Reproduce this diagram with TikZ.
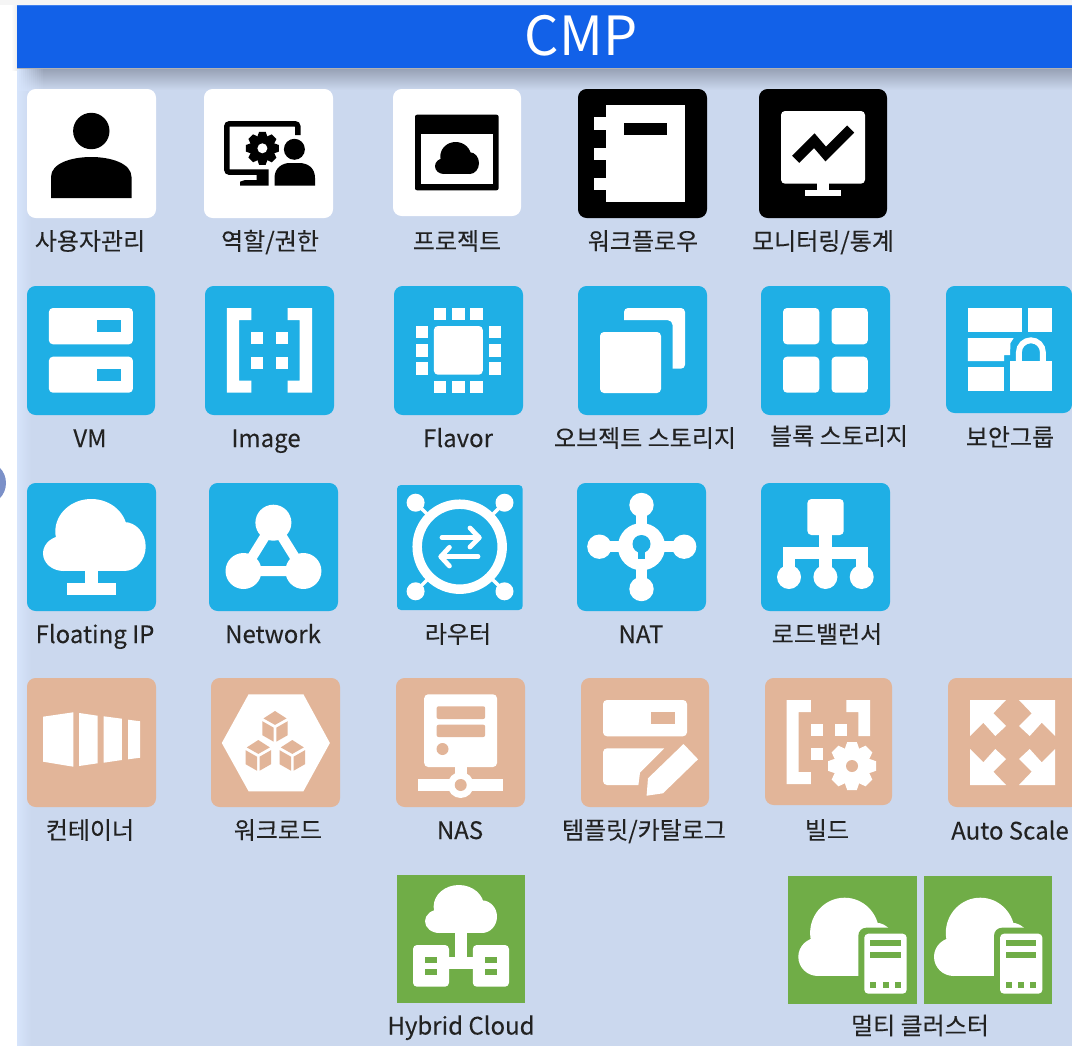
\documentclass[tikz,border=0pt]{standalone}
\usepackage{fontspec}
\setmainfont{Noto Sans CJK KR}
\newfontfamily\lblfont[FakeBold=0.12]{Noto Sans CJK KR}
\definecolor{panel}{HTML}{CBD8EE}
\definecolor{panelhi}{HTML}{D6E4FB}
\definecolor{header}{HTML}{1261E8}
\definecolor{headerhi}{HTML}{3F80EE}
\definecolor{shadowc}{HTML}{98A2B6}
\definecolor{blu}{HTML}{1FAFE5}
\definecolor{tanc}{HTML}{E2B599}
\definecolor{grn}{HTML}{70AD47}
\definecolor{txt}{HTML}{222222}
\definecolor{dot}{HTML}{7B90C8}
\tikzset{
  tilebox/.style={rounded corners=6.5pt},
  lbl/.style={anchor=base,inner sep=0pt,text=txt,font=\lblfont\fontsize{18pt}{20pt}\selectfont},
  softr/.style={rounded corners=3pt},
}
% tile
\newcommand{\tile}[5]{\fill[#1,tilebox] (#2,#3) rectangle (#4,#5);}
% label
\newcommand{\lab}[4]{\node[lbl] (#1) at (#2,#3) {#4};}
% cloud in a box: colour, x, y, w, h
\newcommand{\cloudico}[5]{%
  \begin{scope}[shift={(#2,#3)},xscale=#4,yscale=#5]
    \fill[#1] (.47,.45) ellipse [x radius=.35,y radius=.45];
    \fill[#1] (.20,.755) ellipse [x radius=.20,y radius=.245];
    \fill[#1] (.79,.66) ellipse [x radius=.21,y radius=.34];
    \fill[#1] (.20,.55) rectangle (.79,1);
  \end{scope}}
% gear: cx, cy, R, r(body), hole, colour, holecolour
\newcommand{\gearico}[7]{%
  \begin{scope}[shift={(#1,#2)}]
    \fill[#6] (0,0) circle [radius=#4];
    \foreach \a in {0,45,...,315}{
      \begin{scope}[rotate=\a]
        \fill[#6] (-.2*#3,-#3) -- (.2*#3,-#3) -- (.34*#3,-.6*#3) -- (-.34*#3,-.6*#3) -- cycle;
      \end{scope}}
    \fill[#7] (0,0) circle [radius=#5];
  \end{scope}}
% iso cube
\newcommand{\cubeico}[2]{%
  \begin{scope}[shift={(#1,#2)}]
    \fill[tanc] (0,-14.7) -- (11.5,-7.3) -- (0,-.8) -- (-11.5,-7.3) -- cycle;
    \fill[tanc] (-12.7,-4.5) -- (-1.3,2) -- (-1.3,16) -- (-12.7,9.5) -- cycle;
    \fill[tanc] (12.7,-4.5) -- (1.3,2) -- (1.3,16) -- (12.7,9.5) -- cycle;
  \end{scope}}
% multi cluster glyph, dx
\newcommand{\multiico}[1]{%
  \begin{scope}[shift={(#1,0)}]
    \cloudico{white}{798.3}{897.7}{98.5}{78.3}
    \fill[grn,rounded corners=6pt] (858.3,927.7) rectangle (912.7,998);
    \fill[white,softr] (864.3,933.7) rectangle (906.7,993.7);
    \fill[grn] (870.3,939.7) rectangle (900.7,945.7);
    \fill[grn] (870.3,951.7) rectangle (900.7,957.7);
    \fill[grn] (870.3,981.7) rectangle (876.3,987.7);
    \fill[grn] (882.7,981.7) rectangle (888.7,987.7);
    \fill[grn] (894.7,981.7) rectangle (900.7,987.7);
  \end{scope}}
\begin{document}
\begin{tikzpicture}[x=.75pt,y=-.75pt]
\clip (0,0) rectangle (1072,1046);
\fill[white] (0,0) rectangle (1072,1046);
% panel
\fill[panel] (17,68) rectangle (1072,1046);
\shade[left color=panelhi,right color=panel] (17,90) rectangle (31,1046);
\shade[top color=shadowc,bottom color=panel] (45,69) rectangle (1072,90);
\foreach \i in {0,...,13}{
  \pgfmathsetmacro{\pa}{100*\i/13}
  \pgfmathsetmacro{\xa}{17+2*\i}
  \pgfmathsetmacro{\xb}{17+2*\i+2.3}
  \shade[top color=shadowc!\pa!panelhi,bottom color=panel!\pa!panelhi] (\xa,69) rectangle (\xb,90);
}
\shade[left color=white,right color=black!7] (11,3) rectangle (17,70);
\fill[black!4] (0,0) rectangle (1072,5);
\fill[dot] (-16,483) circle [radius=22];
% header
\fill[header] (17,5) rectangle (1072,68);
\fill[headerhi] (17,5) rectangle (1072,6);
\fill[black!30] (17,68) rectangle (1072,69);
\node[anchor=base,inner sep=0pt,text=white,font=\fontsize{40.5pt}{44pt}\selectfont] (title) at (581,55) {CMP};

% ---------- row 1 ----------
\tile{white}{27}{89}{156}{218}
\tile{white}{204}{89}{333}{218}
\tile{white}{393}{89}{521}{216}
\tile{black}{578}{89}{707}{218}
\tile{black}{759}{89}{887}{218}
% user
\fill[black] (91.3,131) circle [radius=18.2];
\fill[black] (51,198) -- (51,177) .. controls (51,163) and (72,157) .. (91.3,157) .. controls (110,157) and (131.5,163) .. (131.5,177) -- (131.5,198) -- cycle;
% role
\draw[black,line width=4.1pt,rounded corners=2pt] (297.8,135) -- (297.8,123.8) -- (226.8,123.8) -- (226.8,172.2) -- (268.6,172.2);
\fill[black] (240,185.7) -- (240,181.7) -- (245,180) -- (256.5,180) -- (256.5,175) -- (268.6,175) -- (268.6,185.7) -- cycle;
\gearico{262.4}{148.3}{16.5}{12}{5}{black}{white}
\fill[black] (294.4,149.3) circle [radius=10.5];
\fill[black] (274.5,185.7) -- (274.5,178) .. controls (274.5,168) and (282,163) .. (290,163) -- (299,163) .. controls (308,163) and (315,168) .. (315,178) -- (315,185.7) -- cycle;
% project
\fill[black,rounded corners=1.5pt] (415,114.7) rectangle (498.6,190.3);
\fill[white] (420.8,134.3) rectangle (493,184.3);
\cloudico{black}{435}{142}{44}{32}
% workflow
\fill[white] (606.3,105) rectangle (685,201.7);
\fill[white] (594.3,117.3) rectangle (606.3,129.7);
\fill[white] (594.3,147.7) rectangle (606.3,159.7);
\fill[white] (594.3,177.7) rectangle (606.3,189.7);
\fill[black] (624.3,123.3) rectangle (666.7,135.3);
% monitoring
\fill[white,softr] (781,111) rectangle (865,183.7);
\fill[white] (817,183) rectangle (829,191);
\fill[white] (805,190) rectangle (841,196);
\draw[black,line width=7.5pt,miter limit=10] (795.7,159.3) -- (814.3,140.7) -- (825.7,154) -- (850.7,129);

\lab{l11}{90}{250}{사용자관리}
\lab{l12}{270}{250}{역할/권한}
\lab{l13}{457}{250}{프로젝트}
\lab{l14}{643}{250}{워크플로우}
\lab{l15}{823}{250}{모니터링/통계}

% ---------- row 2 ----------
\tile{blu}{27}{286}{155}{415}
\tile{blu}{205}{286}{334}{415}
\tile{blu}{394}{286}{523}{415}
\tile{blu}{578}{286}{707}{415}
\tile{blu}{761}{286}{890}{415}
\tile{blu}{946}{286}{1072}{413}
% VM
\fill[white,softr] (48.9,308) rectangle (132.9,344.3);
\fill[white,softr] (48.9,356.7) rectangle (132.9,392.7);
\fill[blu] (97,320) rectangle (120.9,332.3);
\fill[blu] (97,368.7) rectangle (120.9,380.7);
% Image
\fill[white] (226.9,308) -- (251.4,308) -- (251.4,320) -- (239,320) -- (239,380.7) -- (251.4,380.7) -- (251.4,392.7) -- (226.9,392.7) -- cycle;
\fill[white] (312,308) -- (287.5,308) -- (287.5,320) -- (299.6,320) -- (299.6,380.7) -- (287.5,380.7) -- (287.5,392.7) -- (312,392.7) -- cycle;
\fill[white] (251.4,332.3) rectangle (263.4,344.3);
\fill[white] (275.5,332.3) rectangle (287.5,344.3);
\fill[white] (251.4,356.7) rectangle (263.4,368.7);
\fill[white] (275.5,356.7) rectangle (287.5,368.7);
% Flavor
\fill[white,softr] (433.9,326) rectangle (482.8,374.7);
\foreach \p in {433.9,452.1,470.4}{
  \fill[white] (\p,308) rectangle ++(12.4,12);
  \fill[white] (\p,380.7) rectangle ++(12.4,12);}
\foreach \p in {326,344.3,362.3}{
  \fill[white] (416,\p) rectangle ++(12.4,12.3);
  \fill[white] (489,\p) rectangle ++(12,12.3);}
% Object storage
\fill[white,softr] (600,332) rectangle (661,393);
\fill[white] (624,320) [rounded corners=3pt] -- (624,308) -- (685,308) -- (685,368.7) [sharp corners] -- (672.7,368.7) [rounded corners=4pt] -- (672.7,320) [sharp corners] -- cycle;
% Block storage
\fill[white,softr] (783,308) rectangle (819.3,344.3);
\fill[white,softr] (831.5,308) rectangle (867.8,344.3);
\fill[white,softr] (783,356.7) rectangle (819.3,392.7);
\fill[white,softr] (831.5,356.7) rectangle (867.8,392.7);
% Security group
\fill[white] (967.9,308) rectangle (1022.2,331.7);
\fill[white] (1028,308) rectangle (1052,331.7);
\fill[white] (967.9,338) -- (1013.7,338) -- (1010.5,343) -- (1010,355) -- (1004.2,355) -- (1004.2,361) -- (967.9,361) -- cycle;
\fill[white] (967.9,367) rectangle (1004.2,391);
\fill[white] (1010,361) rectangle (1052,391);
\draw[white,line width=4.4pt] (1018.9,362) -- (1018.9,352.3) arc [start angle=180,end angle=360,radius=12] -- (1042.9,362);

\lab{l21}{90}{447}{VM}
\lab{l22}{266}{447}{Image}
\lab{l23}{458}{447}{Flavor}
\lab{l24}{645}{447}{오브젝트 스토리지}
\lab{l25}{839}{445}{블록 스토리지}
\lab{l26}{1010}{446}{보안그룹}

% ---------- row 3 ----------
\tile{blu}{27}{483}{156}{611}
\tile{blu}{209}{483}{338}{611}
\fill[blu,rounded corners=3pt] (397,485) rectangle (522.7,610);
\tile{blu}{577}{483}{706}{611}
\tile{blu}{761}{483}{890}{611}
% Floating IP
\cloudico{white}{43}{499}{102.7}{72}
\fill[white] (85.4,570) rectangle (97.5,584);
\fill[white] (67,583) rectangle (116,595);
% Network
\draw[white,line width=7.5pt] (273.4,522.7) -- (243.5,571) -- (303.4,571) -- cycle;
\fill[white] (273.4,522.7) circle [radius=18];
\fill[white] (243.5,571) circle [radius=18];
\fill[white] (303.4,571) circle [radius=18];
% Router
\draw[white,line width=7.1pt] (459.7,546.7) circle [radius=42.5];
\draw[white,line width=2.6pt] (415.6,502.7) -- (429,516);
\draw[white,line width=2.6pt] (504.5,502.7) -- (491,516);
\draw[white,line width=2.6pt] (415.6,591.3) -- (429,578);
\draw[white,line width=2.6pt] (504.5,591.3) -- (491,578);
\fill[white] (415.6,502.7) circle [radius=9];
\fill[white] (504.5,502.7) circle [radius=9];
\fill[white] (415.6,591.3) circle [radius=9];
\fill[white] (504.5,591.3) circle [radius=9];
\draw[white,line width=3.6pt,line cap=round,line join=round] (442,537.7) -- (479,537.7);
\draw[white,line width=3.6pt,line cap=round,line join=round] (470,528) -- (479.3,537.7) -- (470,547);
\draw[white,line width=3.6pt,line cap=round,line join=round] (441,556.7) -- (478,556.7);
\draw[white,line width=3.6pt,line cap=round,line join=round] (449.4,547.3) -- (440.8,556.7) -- (449.4,566);
% NAT
\draw[white,line width=8.6pt] (641.5,505) -- (641.5,589);
\draw[white,line width=8.6pt] (599.4,546.7) -- (684.2,546.7);
\fill[white] (641.5,546.7) circle [radius=23.6];
\fill[white] (641.5,505) circle [radius=12.2];
\fill[white] (641.5,589) circle [radius=12.2];
\fill[white] (599.4,546.7) circle [radius=12.2];
\fill[white] (684.2,546.7) circle [radius=12.2];
\fill[blu] (641.5,544) circle [radius=9];
\fill[blu] (638.4,548) rectangle (644.5,559);
% Load balancer
\fill[white,softr] (807.4,499) rectangle (843.7,535);
\fill[white] (819.3,534) rectangle (831.5,570);
\fill[white] (783,547) rectangle (867.8,559);
\fill[white] (783,558) rectangle (794.8,570);
\fill[white] (856,558) rectangle (867.8,570);
\fill[white] (789,577) circle [radius=12];
\fill[white] (825.4,577) circle [radius=12];
\fill[white] (861.7,577) circle [radius=12];

\lab{l31}{95}{643}{Floating IP}
\lab{l32}{273}{643}{Network}
\lab{l33}{458}{643}{라우터}
\lab{l34}{641}{643}{NAT}
\lab{l35}{827}{643}{로드밸런서}

% ---------- row 4 ----------
\tile{tanc}{27}{678}{156}{807}
\tile{tanc}{211}{678}{340}{807}
\tile{tanc}{396}{678}{525}{807}
\tile{tanc}{581}{678}{709}{807}
\tile{tanc}{765}{678}{892}{805}
\tile{tanc}{948}{678}{1080}{807}
% Container
\fill[white] (43,716.7) -- (73.3,712.3) -- (73.3,766.7) -- (43,761.7) -- cycle;
\fill[white] (79.2,713) -- (97.5,715.7) -- (97.5,763.3) -- (79.2,766) -- cycle;
\fill[white] (103.7,716.3) -- (121.9,718.7) -- (121.9,760) -- (103.7,762.7) -- cycle;
\fill[white] (128.1,719.7) -- (140.2,721.3) -- (140.2,757.7) -- (128.1,759.3) -- cycle;
% Workload
\fill[white] (248.6,694.3) -- (303.4,694.3) -- (329.9,743) -- (303.4,791.3) -- (248.6,791.3) -- (221.8,743) -- cycle;
\cubeico{275}{725.7}
\cubeico{258.3}{754.7}
\cubeico{292.3}{754.7}
% NAS
\fill[white,softr] (424.2,694.3) rectangle (497,767);
\fill[tanc,rounded corners=1.5pt] (436.6,706.3) rectangle (485.2,719);
\fill[tanc,rounded corners=1.5pt] (436.6,724.7) rectangle (485.2,737);
\fill[tanc] (442.5,749) circle [radius=6];
\fill[white] (455,766) rectangle (466.6,785);
\fill[white] (418,779) rectangle (503,791.3);
\fill[white] (460.7,785) circle [radius=13];
\fill[tanc] (460.7,785) circle [radius=6];
% Template
\fill[white,softr] (603,700) rectangle (687,736.3);
\fill[tanc] (651,712) rectangle (675,724.3);
\fill[white] (603,752) [rounded corners=3pt] -- (603,748.3) [sharp corners] -- (664.2,748.3) -- (640,772.7) -- (638.4,785) [rounded corners=3pt] -- (603,785) [sharp corners] -- cycle;
\fill[white] (683.5,744) -- (698,759.3) -- (663,793.3) -- (646.6,795.7) -- (648,778.3) -- cycle;
% Build
\fill[white] (810.8,700) -- (786.7,700) -- (786.7,784) -- (810.8,784) -- (810.8,772) -- (798.6,772) -- (798.6,712) -- (810.8,712) -- cycle;
\fill[white] (846.4,700) -- (870,700) -- (870,736) -- (858.3,736) -- (858.3,712) -- (846.4,712) -- cycle;
\fill[white] (810.5,724) rectangle (822.7,736);
\fill[white] (834.5,724) rectangle (846.8,736);
\fill[white] (810.5,748) rectangle (822.7,760);
\gearico{852}{766}{24}{17}{6}{white}{tanc}
% Auto scale
\foreach \sx/\sy in {1/1,-1/1,1/-1,-1/-1}{
  \begin{scope}[shift={(1012.5,742.5)},xscale=\sx,yscale=\sy]
    \fill[white] (-42.5,-42.5) -- (-6.5,-42.5) -- (-19.2,-29.2) -- (-6.5,-16.5) -- (-17.2,-6.5) -- (-29.2,-19.8) -- (-42.5,-6.5) -- cycle;
  \end{scope}}

\lab{l41}{90}{839}{컨테이너}
\lab{l42}{278}{839}{워크로드}
\lab{l43}{460}{839}{NAS}
\lab{l44}{644}{839}{템플릿/카탈로그}
\lab{l45}{827}{839}{빌드}
\lab{l46}{1010}{839.5}{Auto Scale}

% ---------- row 5 ----------
\fill[grn] (397,875) rectangle (525,1003);
\fill[grn] (788,875.7) rectangle (916.7,1004);
\fill[grn] (924,875.7) rectangle (1052,1004);
% Hybrid
\cloudico{white}{425}{885}{72}{48}
\fill[white] (454.5,932) rectangle (467,969);
\fill[white] (449,957) rectangle (473,969);
\fill[white,softr] (413,945) rectangle (449,986.7);
\fill[white,softr] (472.8,945) rectangle (509,986.7);
\fill[grn] (425,957) rectangle (437,962.7);
\fill[grn] (425,969) rectangle (437,975);
\fill[grn] (484.8,957) rectangle (497,962.7);
\fill[grn] (484.8,969) rectangle (497,975);
% Multi
\multiico{0}
\multiico{135.7}

\lab{l51}{461}{1034.5}{Hybrid Cloud}
\lab{l52}{920}{1034.5}{멀티 클러스터}
\end{tikzpicture}
\end{document}
